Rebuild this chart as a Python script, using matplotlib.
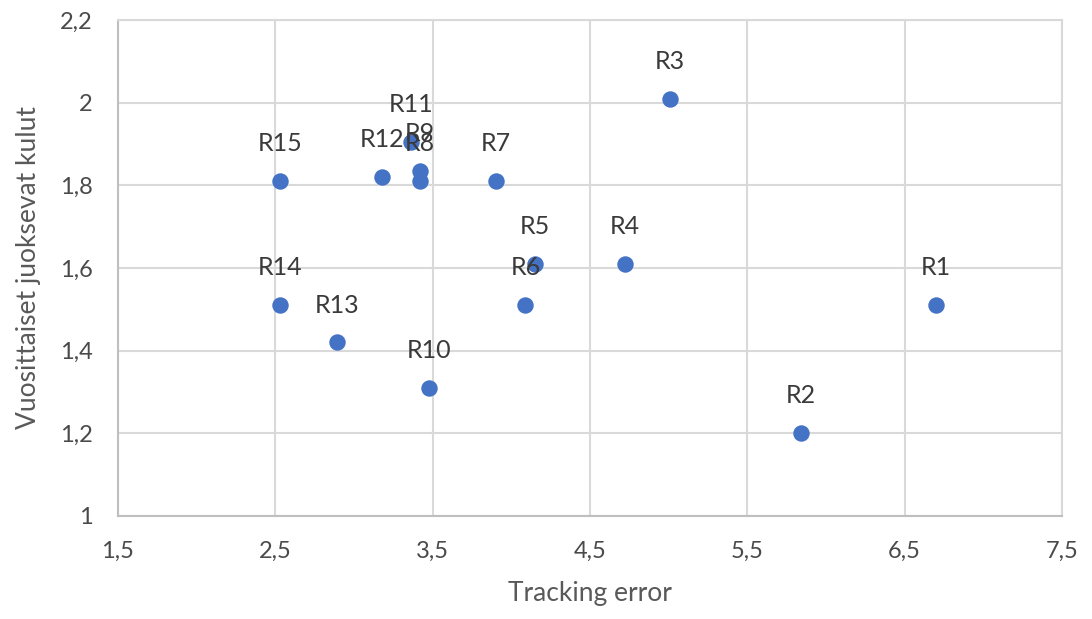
#! /usr/bin/env python

import matplotlib
matplotlib.use('Agg')
import matplotlib.pyplot as plt
from matplotlib.ticker import FuncFormatter, MultipleLocator


# data
labels = ['R1', 'R2', 'R3', 'R4', 'R5', 'R6', 'R7', 'R8',
          'R9', 'R10', 'R11', 'R12', 'R13', 'R14', 'R15']
tracking_error = [6.70, 5.84, 5.01, 4.72, 4.15, 4.09, 3.90, 3.42,
                  3.42, 3.48, 3.36, 3.18, 2.89, 2.53, 2.53]
annual_costs = [1.51, 1.20, 2.01, 1.61, 1.61, 1.51, 1.81, 1.81,
                1.835, 1.31, 1.905, 1.82, 1.42, 1.51, 1.81]

BLUE = '#4472C4'
TEXT = '#3a3a3a'
GRID = '#d9d9d9'


def comma(v, pos):
    """
    comma:
    Returns the tick value with a decimal comma.
    """
    return f'{v:g}'.replace('.', ',')


def main():
    plt.rcParams['font.family'] = ['Lato', 'DejaVu Sans']

    fig = plt.figure(figsize=(10.92, 6.19), dpi=100)
    ax = fig.add_axes([0.108, 0.1664, 0.8645, 0.8013])

    ax.scatter(tracking_error, annual_costs, s=140, color=BLUE,
               zorder=3, linewidths=0)

    for lab, x, y in zip(labels, tracking_error, annual_costs):
        ax.annotate(lab, (x, y), xytext=(0, 21.5), textcoords='offset points',
                    ha='center', va='baseline', fontsize=18, color=TEXT,
                    zorder=4)

    ax.set_xlim(1.5, 7.5)
    ax.set_ylim(1.0, 2.2)
    ax.yaxis.set_major_locator(MultipleLocator(0.2))
    ax.set_xticks([1.5, 2.5, 3.5, 4.5, 5.5, 6.5, 7.5])
    ax.xaxis.set_major_formatter(FuncFormatter(comma))
    ax.yaxis.set_major_formatter(FuncFormatter(comma))

    ax.grid(True, color=GRID, linewidth=1.5, zorder=0)
    ax.set_axisbelow(True)
    for sp in ax.spines.values():
        sp.set_color(GRID)
        sp.set_linewidth(1.5)
    ax.spines['left'].set_color('#bfbfbf')
    ax.spines['bottom'].set_color('#bfbfbf')

    ax.tick_params(length=0, labelsize=17, labelcolor='#4a4a4a')
    ax.tick_params(axis='x', pad=18)
    ax.tick_params(axis='y', pad=18)

    ax.set_xlabel('Tracking error', fontsize=19, color='#595959', labelpad=14)
    ax.set_ylabel('Vuosittaiset juoksevat kulut', fontsize=19,
                  color='#595959', labelpad=14)

    fig.savefig('out.png', dpi=100)


if __name__ == "__main__":
    main()
